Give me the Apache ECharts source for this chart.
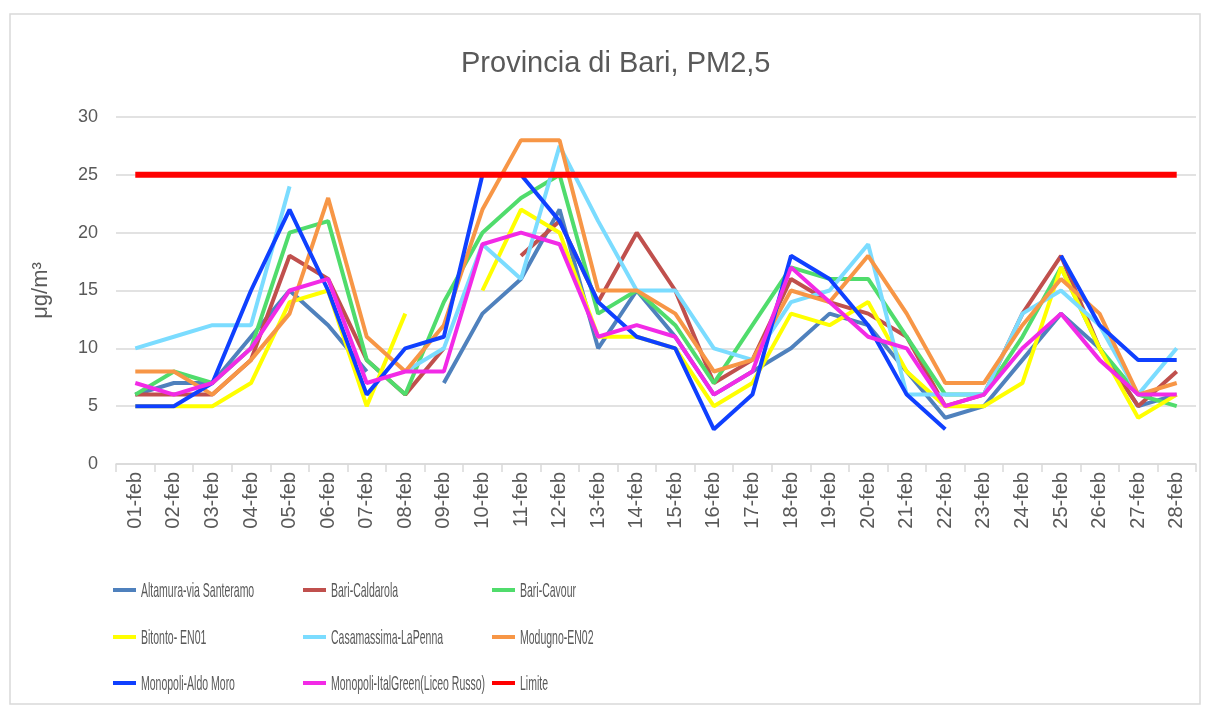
<!DOCTYPE html>
<html>
<head>
<meta charset="utf-8">
<script src="https://cdn.jsdelivr.net/npm/echarts@6/dist/echarts.min.js"></script>
<style>
  html, body { margin: 0; padding: 0; background: #fff; }
  #main { width: 1208px; height: 713px; }
</style>
</head>
<body>
<div id="main"></div>
<script>
// giorni di febbraio
const days = ['01-feb','02-feb','03-feb','04-feb','05-feb','06-feb','07-feb','08-feb','09-feb','10-feb',
  '11-feb','12-feb','13-feb','14-feb','15-feb','16-feb','17-feb','18-feb','19-feb','20-feb',
  '21-feb','22-feb','23-feb','24-feb','25-feb','26-feb','27-feb','28-feb'];

// PM2,5 (µg/m3) per stazione, null = dato mancante
const altamura   = [6, 7, 7, 11, 15, 12, 8, null, 7, 13, 16, 22, 10, 15, 11, 6, 8, 10, 13, 12, 8, 4, 5, 9, 13, 10, 5, 6];
const caldarola  = [6, 6, 6, 9, 18, 16, 9, 6, 10, null, 18, 21, 14, 20, 15, 7, 9, 16, 14, 13, 11, 5, 6, 13, 18, 10, 5, 8];
const cavour     = [6, 8, 7, 10, 20, 21, 9, 6, 14, 20, 23, 25, 13, 15, 12, 7, 12, 17, 16, 16, 11, 6, 6, 11, 17, 10, 6, 5];
const bitonto    = [5, 5, 5, 7, 14, 15, 5, 13, null, 15, 22, 20, 11, 11, 10, 5, 7, 13, 12, 14, 8, 5, 5, 7, 17, 10, 4, 6];
const casamassima= [10, 11, 12, 12, 24, null, null, 8, 10, 19, 16, 27.5, 21, 15, 15, 10, 9, 14, 15, 19, 6, 6, 6, 13, 15, 12, 6, 10];
const modugno    = [8, 8, 6, 9, 13, 23, 11, 8, 12, 22, 28, 28, 15, 15, 13, 8, 9, 15, 14, 18, 13, 7, 7, 12, 16, 13, 6, 7];
const aldoMoro   = [5, 5, 7, 15, 22, 15, 6, 10, 11, 25, 25, 21, 14, 11, 10, 3, 6, 18, 16, 12, 6, 3, null, null, 18, 12, 9, 9];
const italGreen  = [7, 6, 7, 10, 15, 16, 7, 8, 8, 19, 20, 19, 11, 12, 11, 6, 8, 17, 14, 11, 10, 5, 6, 10, 13, 9, 6, 6];
const limite     = days.map(() => 25);

const yTicks = [0, 5, 10, 15, 20, 25, 30];

const stations = [
  { name: 'Altamura-via Santeramo', data: altamura, color: '#4F81BD' },
  { name: 'Bari-Caldarola', data: caldarola, color: '#C0504D' },
  { name: 'Bari-Cavour', data: cavour, color: '#50DC6C' },
  { name: 'Bitonto- EN01', data: bitonto, color: '#FFFF00' },
  { name: 'Casamassima-LaPenna', data: casamassima, color: '#7BDCFF' },
  { name: 'Modugno-EN02', data: modugno, color: '#F79646' },
  { name: 'Monopoli-Aldo Moro', data: aldoMoro, color: '#0F40FF' },
  { name: 'Monopoli-ItalGreen(Liceo Russo)', data: italGreen, color: '#F22AE6' },
  { name: 'Limite', data: limite, color: '#FF0000', width: 6 }
];

const font = "'Liberation Sans', Arial, sans-serif";

// legenda 3x3: icona dal componente legend, testo stretto come graphic
const legCols = [113, 303, 492];
const legRows = [590, 637, 683];
const legends = [];
const legTexts = [];
stations.forEach((s, i) => {
  const cx = legCols[i % 3], cy = legRows[Math.floor(i / 3)];
  legends.push({
    left: cx, top: cy - 2, padding: 0,
    itemWidth: 23, itemHeight: 4, icon: 'rect',
    data: [s.name],
    formatter: () => '',
    textStyle: { fontSize: 1 }
  });
  legTexts.push({
    type: 'text', x: cx + 28, y: cy + 1, scaleX: 0.5, silent: true,
    style: { text: s.name, x: 0, y: 0, fill: '#595959', fontSize: 21, fontFamily: font, verticalAlign: 'middle' }
  });
});

const chart = echarts.init(document.getElementById('main'));
chart.setOption({
  backgroundColor: '#fff',
  animation: false,
  title: {
    text: 'Provincia di Bari, PM2,5',
    left: 456,
    top: 44,
    textStyle: { color: '#595959', fontSize: 29, fontWeight: 'normal', fontFamily: font }
  },
  graphic: [{
    type: 'rect',
    shape: { x: 10, y: 14, width: 1190, height: 690 },
    style: { fill: 'none', stroke: '#D9D9D9', lineWidth: 1.5 },
    silent: true
  }].concat(legTexts),
  legend: legends,
  grid: { left: 116, right: 12, top: 117, bottom: 249 },
  xAxis: {
    type: 'category',
    data: days,
    boundaryGap: true,
    axisLine: { lineStyle: { color: '#D9D9D9', width: 1.5 } },
    axisTick: { show: true, length: 8, lineStyle: { color: '#D9D9D9', width: 1.5 } },
    axisLabel: { rotate: 90, interval: 0, color: '#595959', fontSize: 20, margin: 8, fontFamily: font }
  },
  yAxis: {
    type: 'value',
    min: yTicks[0],
    max: yTicks[yTicks.length - 1],
    interval: 5,
    name: 'μg/m³',
    nameLocation: 'middle',
    nameRotate: 90,
    nameGap: 64,
    nameTextStyle: { color: '#595959', fontSize: 22, fontFamily: font },
    axisLine: { show: false },
    axisTick: { show: false },
    axisLabel: { color: '#595959', fontSize: 18, margin: 18, fontFamily: font },
    splitLine: { lineStyle: { color: '#D9D9D9', width: 1.5 } }
  },
  series: stations.map(s => ({
    name: s.name,
    type: 'line',
    data: s.data,
    showSymbol: false,
    symbol: 'none',
    connectNulls: false,
    color: s.color,
    lineStyle: { color: s.color, width: s.width || 4 }
  }))
});
</script>
</body>
</html>
